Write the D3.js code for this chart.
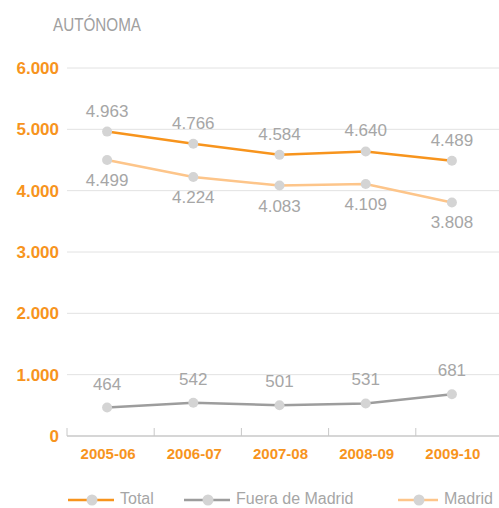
<!DOCTYPE html>
<head>
<meta charset='utf-8'>
<style>
  body { margin: 0; background: #fff; font-family: 'Liberation Sans Narrow', 'Liberation Sans', Arial, sans-serif; }
  .grid line { stroke: #e2e2e2; stroke-width: 1; }
  .ylab { fill: #f7941d; font-weight: bold; font-size: 17px; }
  .xlab { fill: #f7941d; font-weight: bold; font-size: 15px; }
  .val { fill: #a6a6a6; font-size: 17px; }
  .leg { fill: #a6a6a6; font-size: 16px; }
</style>
</head>
<body>
<div id='vis'></div>
<script src='https://d3js.org/d3.v7.min.js'></script>
<script>
  const years = ['2005-06', '2006-07', '2007-08', '2008-09', '2009-10']
  const total = [4963, 4766, 4584, 4640, 4489]
  const fuera = [464, 542, 501, 531, 681]
  const madrid = [4499, 4224, 4083, 4109, 3808]
  const yTicks = [0, 1000, 2000, 3000, 4000, 5000, 6000]

  const series = [
    {name: 'Total', values: total, color: '#f7941d', labelDy: -15},
    {name: 'Fuera de Madrid', values: fuera, color: '#9d9d9d', labelDy: -18},
    {name: 'Madrid', values: madrid, color: '#fdc58a', labelDy: 26}
  ]

  const fmt = v => d3.format(',')(v).replace(/,/g, '.')

  const svg = d3.select('#vis').append('svg')
    .attr('width', 499).attr('height', 508)

  const x = d3.scaleBand().domain(years).range([65, 496])
  const xt = d3.scaleBand().domain(years).range([67, 503]) // marcas del eje
  const y = d3.scaleLinear().domain([0, 6000]).range([436, 68])

  svg.append('text').attr('x', 53).attr('y', 31)
    .attr('fill', '#a0a0a0').attr('font-size', 18)
    .attr('textLength', 88).attr('lengthAdjust', 'spacingAndGlyphs')
    .text('AUTÓNOMA')

  // lineas de guia
  svg.append('g').attr('class', 'grid')
    .selectAll('line').data(yTicks.slice(1)).enter().append('line')
    .attr('x1', 67).attr('x2', 499)
    .attr('y1', d => y(d)).attr('y2', d => y(d))

  svg.selectAll('.ylab').data(yTicks).enter().append('text')
    .attr('class', 'ylab')
    .attr('x', 59).attr('y', d => y(d) + 6)
    .attr('text-anchor', 'end')
    .text(d => d === 0 ? '0' : fmt(d))

  // eje x
  svg.append('line').attr('x1', 67).attr('x2', 499)
    .attr('y1', y(0)).attr('y2', y(0))
    .attr('stroke', '#c8c8c8').attr('stroke-width', 1.5)
  svg.selectAll('.tick').data(years).enter().append('line')
    .attr('x1', d => xt(d)).attr('x2', d => xt(d))
    .attr('y1', y(0) - 8).attr('y2', y(0))
    .attr('stroke', '#c8c8c8').attr('stroke-width', 1)

  svg.selectAll('.xlab').data(years).enter().append('text')
    .attr('class', 'xlab')
    .attr('x', d => x(d) + x.bandwidth() / 2)
    .attr('y', y(0) + 23)
    .attr('text-anchor', 'middle')
    .text(d => d)

  const cx = d => x(d) + x.bandwidth() / 2 - 1
  const line = d3.line().x((d, i) => cx(years[i])).y(d => y(d))

  series.forEach(s => {
    const g = svg.append('g')
    g.append('path').datum(s.values)
      .attr('d', line).attr('fill', 'none')
      .attr('stroke', s.color).attr('stroke-width', 2.5)
    g.selectAll('circle').data(s.values).enter().append('circle')
      .attr('cx', (d, i) => cx(years[i])).attr('cy', d => y(d))
      .attr('r', 5).attr('fill', '#d4d4d4')
    g.selectAll('text').data(s.values).enter().append('text')
      .attr('class', 'val')
      .attr('x', (d, i) => cx(years[i])).attr('y', d => y(d) + s.labelDy)
      .attr('text-anchor', 'middle')
      .text(d => fmt(d))
  })

  // leyenda
  const legX = [68, 184, 398]
  const legW = [46, 46, 40]
  const leg = svg.selectAll('.legitem').data(series).enter().append('g')
    .attr('transform', (d, i) => `translate(${legX[i]}, 500)`)
  leg.append('line').attr('x1', 0).attr('x2', (d, i) => legW[i])
    .attr('stroke', d => d.color).attr('stroke-width', 2.5)
  leg.append('circle').attr('cx', (d, i) => legW[i] / 2 + 1).attr('r', 5.5).attr('fill', '#d4d4d4')
  leg.append('text').attr('class', 'leg').attr('x', (d, i) => legW[i] + 6).attr('y', 4).text(d => d.name)
</script>
</body>
